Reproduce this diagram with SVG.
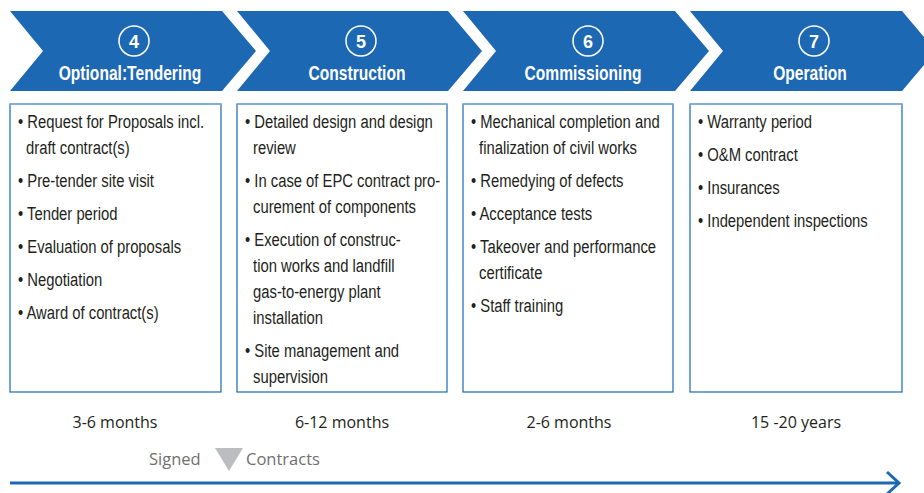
<svg xmlns="http://www.w3.org/2000/svg" width="924" height="493" viewBox="0 0 924 493">
<style>
.chev{fill:#1c68b3}
.num{font-family:"Liberation Sans",Arial,sans-serif;font-weight:bold;font-size:18px;fill:#fff;text-anchor:middle}
.ttl{font-family:"Liberation Sans",Arial,sans-serif;font-weight:bold;font-size:20px;fill:#fff;text-anchor:middle}
.ring{fill:none;stroke:#fff;stroke-width:1.5}
.box{fill:#fff;stroke:#1c68b3;stroke-width:1.2}
.boxtop{stroke:#8ab0dc;stroke-width:1.5}
.bt{font-family:"Liberation Sans",Arial,sans-serif;font-size:19px;fill:#231f20}
.dur{font-family:"Open Sans","Liberation Sans",sans-serif;font-size:16px;fill:#231f20;text-anchor:middle}
.sig{font-family:"Open Sans","Liberation Sans",sans-serif;font-size:16.5px;fill:#707070}
</style>
<g id="phase4">
<polygon class="chev" points="10,11 222,11 256,51 222,91 10,91 43,51"/>
<circle class="ring" cx="134" cy="41" r="15"/>
<text class="num" x="134" y="47.5">4</text>
<text class="ttl" transform="translate(130,80) scale(0.78,1)">Optional:Tendering</text>
<rect class="box" x="10" y="104" width="211" height="288"/>
<line class="boxtop" x1="10" y1="104" x2="221" y2="104"/>
<g transform="translate(18,0) scale(0.78,1)">
<text class="bt" x="0" y="128">• Request for Proposals incl.</text>
<text class="bt" x="10.3" y="154">draft contract(s)</text>
<text class="bt" x="0" y="187">• Pre-tender site visit</text>
<text class="bt" x="0" y="220">• Tender period</text>
<text class="bt" x="0" y="253">• Evaluation of proposals</text>
<text class="bt" x="0" y="286">• Negotiation</text>
<text class="bt" x="0" y="319">• Award of contract(s)</text>
</g>
<text class="dur" x="115" y="428">3-6 months</text>
</g>
<g id="phase5">
<polygon class="chev" points="237,11 448,11 482,51 448,91 237,91 270,51"/>
<circle class="ring" cx="361" cy="41" r="15"/>
<text class="num" x="361" y="47.5">5</text>
<text class="ttl" transform="translate(357,80) scale(0.78,1)">Construction</text>
<rect class="box" x="237" y="104" width="210" height="288"/>
<line class="boxtop" x1="237" y1="104" x2="447" y2="104"/>
<g transform="translate(245,0) scale(0.78,1)">
<text class="bt" x="0" y="128">• Detailed design and design</text>
<text class="bt" x="10.3" y="154">review</text>
<text class="bt" x="0" y="187">• In case of EPC contract pro-</text>
<text class="bt" x="10.3" y="213">curement of components</text>
<text class="bt" x="0" y="246">• Execution of construc-</text>
<text class="bt" x="10.3" y="272">tion works and landfill</text>
<text class="bt" x="10.3" y="298">gas-to-energy plant</text>
<text class="bt" x="10.3" y="324">installation</text>
<text class="bt" x="0" y="357">• Site management and</text>
<text class="bt" x="10.3" y="383">supervision</text>
</g>
<text class="dur" x="342" y="428">6-12 months</text>
</g>
<g id="phase6">
<polygon class="chev" points="463,11 675,11 709,51 675,91 463,91 496,51"/>
<circle class="ring" cx="588" cy="41" r="15"/>
<text class="num" x="588" y="47.5">6</text>
<text class="ttl" transform="translate(583,80) scale(0.78,1)">Commissioning</text>
<rect class="box" x="463" y="104" width="210" height="288"/>
<line class="boxtop" x1="463" y1="104" x2="673" y2="104"/>
<g transform="translate(471,0) scale(0.78,1)">
<text class="bt" x="0" y="128">• Mechanical completion and</text>
<text class="bt" x="10.3" y="154">finalization of civil works</text>
<text class="bt" x="0" y="187">• Remedying of defects</text>
<text class="bt" x="0" y="220">• Acceptance tests</text>
<text class="bt" x="0" y="253">• Takeover and performance</text>
<text class="bt" x="10.3" y="279">certificate</text>
<text class="bt" x="0" y="312">• Staff training</text>
</g>
<text class="dur" x="569" y="428">2-6 months</text>
</g>
<g id="phase7">
<polygon class="chev" points="690,11 902,11 936,51 902,91 690,91 723,51"/>
<circle class="ring" cx="814" cy="41" r="15"/>
<text class="num" x="814" y="47.5">7</text>
<text class="ttl" transform="translate(810,80) scale(0.78,1)">Operation</text>
<rect class="box" x="690" y="104" width="212" height="288"/>
<line class="boxtop" x1="690" y1="104" x2="902" y2="104"/>
<g transform="translate(698,0) scale(0.78,1)">
<text class="bt" x="0" y="128">• Warranty period</text>
<text class="bt" x="0" y="161">• O&amp;M contract</text>
<text class="bt" x="0" y="194">• Insurances</text>
<text class="bt" x="0" y="227">• Independent inspections</text>
</g>
<text class="dur" x="796" y="428">15 -20 years</text>
</g>
<g id="signed">
<text class="sig" x="149" y="465">Signed</text>
<polygon points="215,448 243,448 229,471" fill="#bcbdc0"/>
<text class="sig" x="246" y="465">Contracts</text>
</g>
<g id="connectors">
<line x1="10" y1="483" x2="898" y2="483" stroke="#1c68b3" stroke-width="3"/>
<polyline points="887,472 899,483 887,494" fill="none" stroke="#1c68b3" stroke-width="3"/>
</g>
</svg>
